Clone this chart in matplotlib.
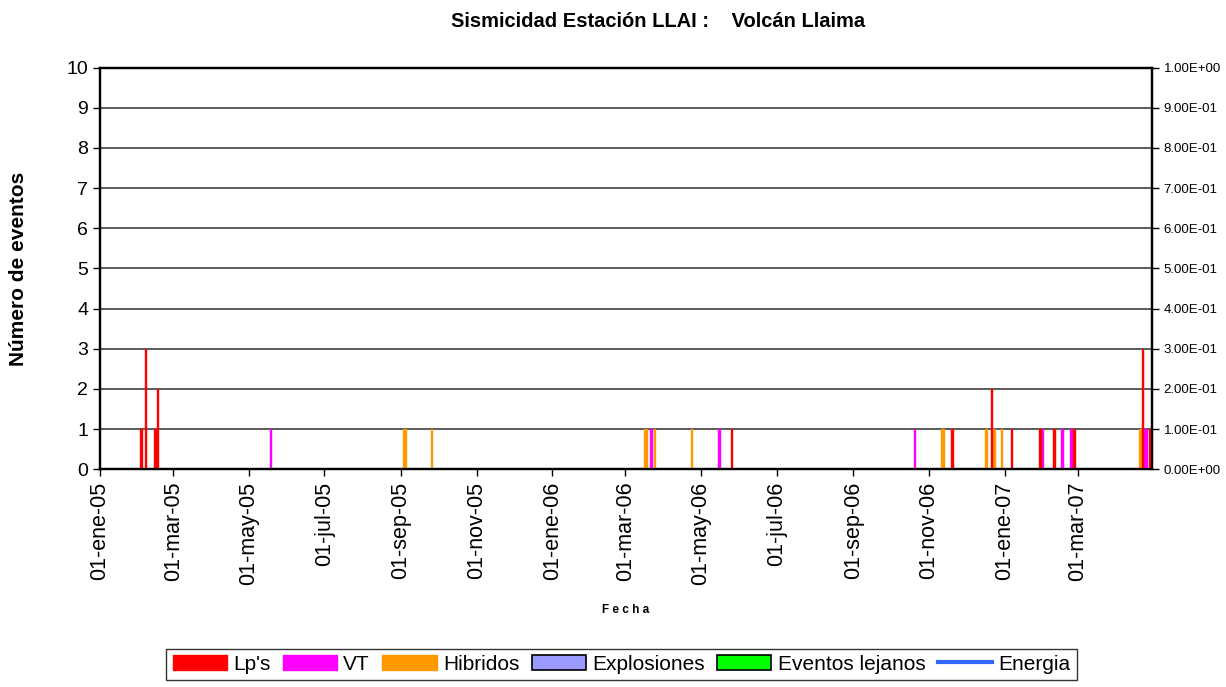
import numpy as np
import matplotlib
matplotlib.use("Agg")
import matplotlib.pyplot as plt
import matplotlib.dates as mdates
from matplotlib.patches import Patch
from matplotlib.lines import Line2D
from matplotlib.ticker import FuncFormatter

plt.rcParams['font.family'] = ['Liberation Sans', 'DejaVu Sans']

# ---------------- data ----------------
lp_dates = ["2005-02-02", "2005-02-03", "2005-02-06", "2005-02-14", "2005-02-16",
            "2006-05-25", "2006-11-19", "2006-12-21", "2007-01-06", "2007-01-29",
            "2007-02-09", "2007-02-10", "2007-02-25", "2007-02-26", "2007-04-22",
            "2007-04-28", "2007-04-29"]
lp_counts = [1, 1, 3, 1, 2,
             1, 1, 2, 1, 1,
             1, 1, 1, 1, 3,
             1, 1]

vt_dates = ["2005-05-18", "2006-03-21", "2006-05-15", "2006-10-20", "2007-01-31",
            "2007-02-16", "2007-02-23", "2007-04-24", "2007-04-25"]
vt_counts = [1, 1, 1, 1, 1, 1, 1, 1, 1]

hib_dates = ["2005-09-03", "2005-09-04", "2005-09-25", "2006-03-16", "2006-03-17",
             "2006-03-24", "2006-04-23", "2006-11-11", "2006-11-12", "2006-12-16",
             "2006-12-17", "2006-12-22", "2006-12-23", "2006-12-29", "2007-04-20",
             "2007-04-21"]
hib_counts = [1, 1, 1, 1, 1,
              1, 1, 1, 1, 1,
              1, 1, 1, 1, 1,
              1]

tick_dates = ["2005-01-01", "2005-03-01", "2005-05-01", "2005-07-01", "2005-09-01",
              "2005-11-01", "2006-01-01", "2006-03-01", "2006-05-01", "2006-07-01",
              "2006-09-01", "2006-11-01", "2007-01-01", "2007-03-01"]
tick_labels = ["01-ene-05", "01-mar-05", "01-may-05", "01-jul-05", "01-sep-05",
               "01-nov-05", "01-ene-06", "01-mar-06", "01-may-06", "01-jul-06",
               "01-sep-06", "01-nov-06", "01-ene-07", "01-mar-07"]

x_start = "2005-01-01"
x_end = "2007-04-30"

series_names = ["Lp's", "VT", "Hibridos", "Explosiones", "Eventos lejanos", "Energia"]
colors = ["#FF0000", "#FF00FF", "#FF9900", "#9999FF", "#00FF00", "#3366FF"]

# ---------------- figure ----------------
fig = plt.figure(figsize=(12.26, 6.87), dpi=100)
ax = fig.add_axes([0.0816, 0.3169, 0.9396 - 0.0816, 0.9015 - 0.3169])

def dnum(lst):
    return mdates.date2num(np.array(lst, dtype="datetime64[D]"))

bw = 1.2
for dates, counts, c in [(hib_dates, hib_counts, colors[2]),
                         (vt_dates, vt_counts, colors[1]),
                         (lp_dates, lp_counts, colors[0])]:
    ax.bar(dnum(dates) + 0.5, counts, width=bw, color=c, edgecolor=c,
           linewidth=1.0, zorder=3)

ax.set_xlim(dnum([x_start])[0], dnum([x_end])[0])
ax.set_ylim(0, 10)
ax.set_yticks(range(0, 11))
ax.yaxis.grid(True, color="#404040", linewidth=1.2, zorder=1)
ax.set_axisbelow(True)

ax.set_xticks(dnum(tick_dates))
ax.set_xticklabels(tick_labels, rotation=90, fontsize=15.5)
ax.tick_params(axis='y', labelsize=14, direction='out', length=5, width=1)
ax.tick_params(axis='x', direction='out', length=5, width=1, pad=4)

for s in ax.spines.values():
    s.set_color("black")
    s.set_linewidth(1.6)

ax.set_ylabel("Número de eventos", fontsize=15, fontweight="bold", labelpad=28)
ax.set_xlabel("F e c h a", fontsize=8.5, fontweight="bold", labelpad=14)

ax2 = ax.twinx()
ax2.set_ylim(0, 1)
ax2.set_yticks(np.arange(0, 1.01, 0.1))
ax2.yaxis.set_major_formatter(FuncFormatter(lambda v, p: "%.2E" % v))
ax2.tick_params(axis='y', labelsize=9.5, direction='out', length=5, width=1)
for s in ax2.spines.values():
    s.set_color("black")
    s.set_linewidth(1.6)

fig.text(0.537, 0.968, "Sismicidad Estación LLAI :    Volcán Llaima",
         ha="center", va="center", fontsize=14.5, fontweight="bold")

handles = [Patch(facecolor=colors[0], edgecolor=colors[0]),
           Patch(facecolor=colors[1], edgecolor=colors[1]),
           Patch(facecolor=colors[2], edgecolor=colors[2]),
           Patch(facecolor=colors[3], edgecolor="black", linewidth=1.2),
           Patch(facecolor=colors[4], edgecolor="black", linewidth=1.2),
           Line2D([0], [0], color=colors[5], linewidth=3)]
leg = fig.legend(handles, series_names, loc="center", bbox_to_anchor=(0.507, 0.033),
                 ncol=6, fontsize=15, frameon=True, fancybox=False, edgecolor="black",
                 handlelength=2.6, handleheight=0.72, handletextpad=0.3, columnspacing=0.6,
                 borderpad=0.3)
leg.get_frame().set_linewidth(1.0)

fig.savefig("out.png", dpi=100)
